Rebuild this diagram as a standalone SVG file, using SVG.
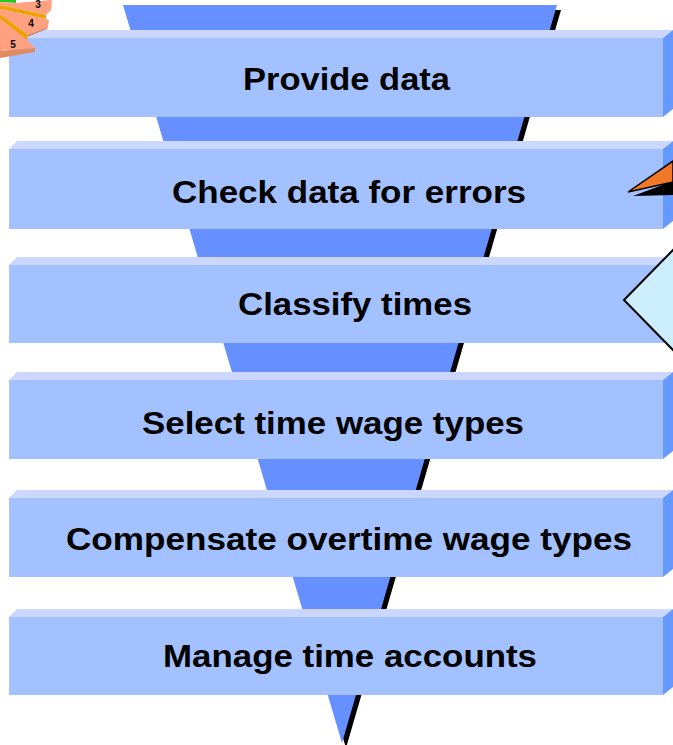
<svg xmlns="http://www.w3.org/2000/svg" width="673" height="745" viewBox="0 0 673 745">
  <style>
    .front { fill: #A3C1FF; }
    .bevel { fill: #CCD7FF; }
    .side { fill: #6699FF; }
    .label { font-family: "Liberation Sans", Arial, sans-serif; font-weight: bold; font-size: 32px; fill: #000000; text-anchor: middle; }
    .num { font-family: "Liberation Sans", Arial, sans-serif; font-weight: bold; font-size: 10px; fill: #000000; text-anchor: middle; }
  </style>

  <rect x="0" y="0" width="673" height="745" fill="#FFFFFF"/>

  <!-- funnel: shadowed inverted triangle running behind the steps -->
  <g id="funnel">
    <polygon points="127,10 561,10 346,748" fill="#000000"/>
    <polygon points="123,5 557,5 342,743" fill="#6690FF"/>
  </g>

  <!-- process steps -->
  <g id="step1">
    <path class="bevel" d="M9,38 L17,30 L673,30 L663,38 Z"/>
    <path class="side" d="M663,38 L673,30 L673,109 L663,117 Z"/>
    <rect class="front" x="9" y="38" width="654" height="79"/>
    <text class="label" x="346.5" y="90" textLength="207" lengthAdjust="spacingAndGlyphs">Provide data</text>
  </g>

  <g id="step2">
    <path class="bevel" d="M9,149 L17,141 L673,141 L663,149 Z"/>
    <path class="side" d="M663,149 L673,141 L673,221 L663,229 Z"/>
    <rect class="front" x="9" y="149" width="654" height="80"/>
    <text class="label" x="349" y="203" textLength="354" lengthAdjust="spacingAndGlyphs">Check data for errors</text>
  </g>

  <g id="step3">
    <path class="bevel" d="M9,265 L17,257 L673,257 L663,265 Z"/>
    <path class="side" d="M663,265 L673,257 L673,335 L663,343 Z"/>
    <rect class="front" x="9" y="265" width="654" height="78"/>
    <text class="label" x="355" y="315" textLength="234" lengthAdjust="spacingAndGlyphs">Classify times</text>
  </g>

  <g id="step4">
    <path class="bevel" d="M9,380 L17,372 L673,372 L663,380 Z"/>
    <path class="side" d="M663,380 L673,372 L673,451 L663,459 Z"/>
    <rect class="front" x="9" y="380" width="654" height="79"/>
    <text class="label" x="333" y="434" textLength="382" lengthAdjust="spacingAndGlyphs">Select time wage types</text>
  </g>

  <g id="step5">
    <path class="bevel" d="M9,498 L17,490 L673,490 L663,498 Z"/>
    <path class="side" d="M663,498 L673,490 L673,569 L663,577 Z"/>
    <rect class="front" x="9" y="498" width="654" height="79"/>
    <text class="label" x="349" y="550" textLength="566" lengthAdjust="spacingAndGlyphs">Compensate overtime wage types</text>
  </g>

  <g id="step6">
    <path class="bevel" d="M9,617 L17,609 L673,609 L663,617 Z"/>
    <path class="side" d="M663,617 L673,609 L673,687 L663,695 Z"/>
    <rect class="front" x="9" y="617" width="654" height="78"/>
    <text class="label" x="350" y="667" textLength="374" lengthAdjust="spacingAndGlyphs">Manage time accounts</text>
  </g>

  <!-- pie fan decoration, top-left corner, lying over the first step -->
  <g id="pie">
    <polygon points="0,0 16,0 16,3 0,2" fill="#22CC22"/>
    <polygon points="0,2 16,3 52,0 51,10 46,15 0,5" fill="#FFA080"/>
    <polygon points="0,5 46,15 46,19 0,9" fill="#F0A000"/>
    <polygon points="0,9 46,19 49,20 48,27 28,35 0,14" fill="#FFA080"/>
    <polygon points="48,27 28,35 27,37 47,29" fill="#D88060"/>
    <polygon points="0,14 28,35 27,40 0,19" fill="#F0A000"/>
    <polygon points="0,19 27,40 35,48 0,51" fill="#FFA080"/>
    <polygon points="0,51 35,48 35,52 0,58" fill="#E08A62"/>
    <text class="num" x="38" y="8">3</text>
    <text class="num" x="31" y="27">4</text>
    <text class="num" x="13" y="48">5</text>
  </g>

  <!-- pointer entering from the right at step 2 -->
  <g id="pointer">
    <polygon points="633,196 673,181 673,195" fill="#000000"/>
    <polygon points="628,192 673,161 673,182" fill="#F07828" stroke="#000000" stroke-width="1.5" stroke-linejoin="miter"/>
  </g>

  <!-- callout wedge at step 3 -->
  <g id="callout">
    <polygon points="624,300 674,249 674,351" fill="#CCEEFF" stroke="#000000" stroke-width="2"/>
  </g>
</svg>
